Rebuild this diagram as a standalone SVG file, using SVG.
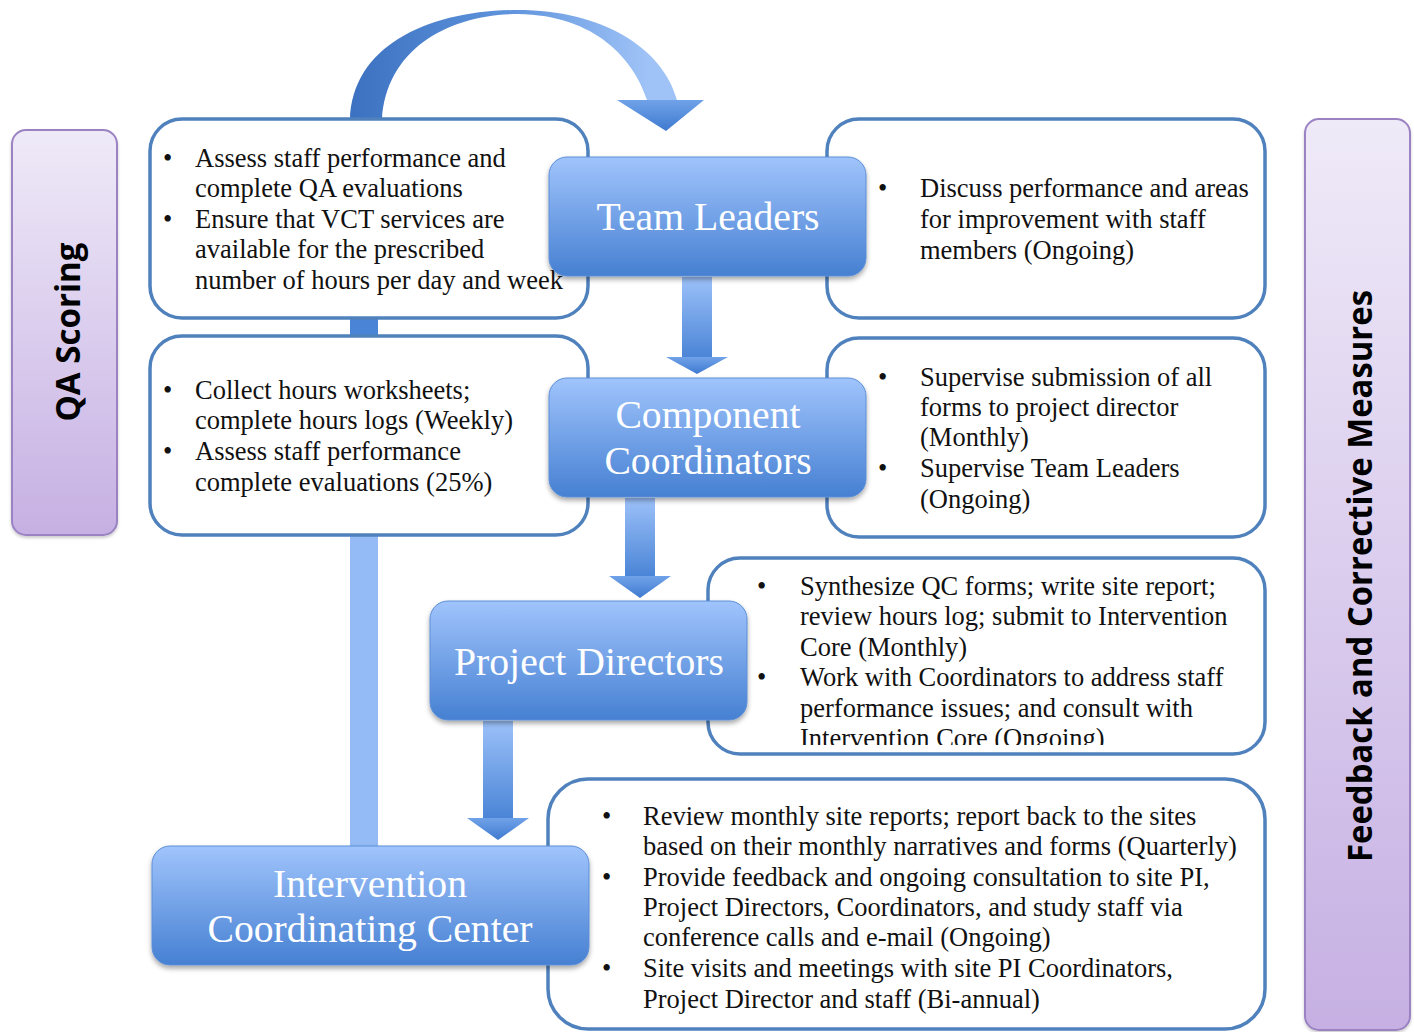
<svg xmlns="http://www.w3.org/2000/svg" width="1414" height="1032" viewBox="0 0 1414 1032">
<defs>
  <linearGradient id="nodeGrad" x1="0" y1="0" x2="0" y2="1">
    <stop offset="0" stop-color="#a0c4fc"/>
    <stop offset="1" stop-color="#4680d2"/>
  </linearGradient>
  <linearGradient id="purpleGrad" x1="0" y1="0" x2="0" y2="1">
    <stop offset="0" stop-color="#efeaf8"/>
    <stop offset="1" stop-color="#c6b0e3"/>
  </linearGradient>
  <linearGradient id="shaftGrad" x1="0" y1="0" x2="0" y2="1">
    <stop offset="0" stop-color="#9cc1f9"/>
    <stop offset="1" stop-color="#4a84d6"/>
  </linearGradient>
  <linearGradient id="arcGrad" x1="350" y1="0" x2="700" y2="0" gradientUnits="userSpaceOnUse">
    <stop offset="0" stop-color="#3b71c0"/>
    <stop offset="0.45" stop-color="#5f93dc"/>
    <stop offset="0.85" stop-color="#9fc3f7"/>
    <stop offset="1" stop-color="#9fc3f7"/>
  </linearGradient>
  <linearGradient id="headGrad" x1="0" y1="0" x2="0" y2="1">
    <stop offset="0" stop-color="#70a2e8"/>
    <stop offset="1" stop-color="#3f7ad0"/>
  </linearGradient>
  <filter id="shadow" x="-10%" y="-10%" width="120%" height="130%">
    <feDropShadow dx="0" dy="3" stdDeviation="2.5" flood-color="#000" flood-opacity="0.35"/>
  </filter>
  <filter id="softShadow" x="-10%" y="-10%" width="120%" height="130%">
    <feDropShadow dx="0" dy="2" stdDeviation="1.5" flood-color="#000" flood-opacity="0.2"/>
  </filter>
  <clipPath id="pdClip">
    <rect x="700" y="555" width="570" height="190"/>
  </clipPath>
</defs>
<style>
  .tbox { fill: #ffffff; stroke: #4f81bd; stroke-width: 3.5; }
  .node rect { fill: url(#nodeGrad); stroke: #5d8fd6; stroke-width: 1; filter: url(#shadow); }
  .ntext { font-family: "Liberation Serif", "Times New Roman", serif; font-size: 39.7px; fill: #ffffff; text-anchor: middle; }
  .body { font-family: "Liberation Serif", "Times New Roman", serif; font-size: 26.5px; fill: #111111; }
  .side rect { fill: url(#purpleGrad); stroke: #9b82c2; stroke-width: 2; filter: url(#softShadow); }
  .stext { font-family: "Open Sans", "Liberation Sans", sans-serif; font-weight: bold; font-size: 34px; fill: #000000; text-anchor: middle; }
  .shaft { fill: url(#shaftGrad); }
  .head { fill: url(#headGrad); }
</style>

<!-- connectors -->
<g id="connectors">
  <rect x="350" y="300" width="28" height="550" fill="#94bbf6"/>
  <rect x="350" y="316" width="28" height="22" fill="#4a84d6"/>
  <!-- curved arrow -->
  <path d="M350,120 C352,45 430,10 518,10 C602,10 663,48 677,100 L647,100 C634,60 596,15 518,14 C450,14 386,48 382,120 Z" fill="url(#arcGrad)"/>
  <polygon points="617,100 704,100 666,131" class="head"/>
  <!-- TL to CC -->
  <rect x="682" y="277" width="30" height="81" class="shaft"/>
  <polygon points="666,357 728,357 697,374" class="head"/>
  <!-- CC to PD -->
  <rect x="625" y="498" width="30" height="79" class="shaft"/>
  <polygon points="609,576 671,576 640,598" class="head"/>
  <!-- PD to ICC -->
  <rect x="483" y="721" width="30" height="98" class="shaft"/>
  <polygon points="467,818 529,818 498,840" class="head"/>
</g>

<!-- side labels -->
<g id="qa-scoring" class="side">
  <rect x="12" y="130" width="105" height="405" rx="14"/>
  <text class="stext" transform="translate(80,332) rotate(-90)" textLength="179" lengthAdjust="spacingAndGlyphs">QA Scoring</text>
</g>
<g id="feedback" class="side">
  <rect x="1305" y="119" width="105" height="911" rx="14"/>
  <text class="stext" transform="translate(1372,576) rotate(-90)" textLength="572" lengthAdjust="spacingAndGlyphs">Feedback and Corrective Measures</text>
</g>

<!-- text boxes -->
<g id="box-tl-left">
  <rect class="tbox" x="150" y="119" width="438" height="199" rx="32"/>
  <g class="body">
    <text x="163" y="167">•</text>
    <text x="195" y="167">Assess staff performance and</text>
    <text x="195" y="197">complete QA evaluations</text>
    <text x="163" y="228">•</text>
    <text x="195" y="228">Ensure that VCT services are</text>
    <text x="195" y="258">available for the prescribed</text>
    <text x="195" y="289">number of hours per day and week</text>
  </g>
</g>
<g id="box-cc-left">
  <rect class="tbox" x="150" y="336" width="438" height="199" rx="32"/>
  <g class="body">
    <text x="163" y="399">•</text>
    <text x="195" y="399">Collect hours worksheets;</text>
    <text x="195" y="429">complete hours logs (Weekly)</text>
    <text x="163" y="460">•</text>
    <text x="195" y="460">Assess staff performance</text>
    <text x="195" y="491">complete evaluations (25%)</text>
  </g>
</g>
<g id="box-tl-right">
  <rect class="tbox" x="827" y="119" width="438" height="199" rx="32"/>
  <g class="body">
    <text x="878" y="197">•</text>
    <text x="920" y="197">Discuss performance and areas</text>
    <text x="920" y="228">for improvement with staff</text>
    <text x="920" y="259">members (Ongoing)</text>
  </g>
</g>
<g id="box-cc-right">
  <rect class="tbox" x="827" y="338" width="438" height="199" rx="32"/>
  <g class="body">
    <text x="878" y="386">•</text>
    <text x="920" y="386">Supervise submission of all</text>
    <text x="920" y="416">forms to project director</text>
    <text x="920" y="446">(Monthly)</text>
    <text x="878" y="477">•</text>
    <text x="920" y="477">Supervise Team Leaders</text>
    <text x="920" y="508">(Ongoing)</text>
  </g>
</g>
<g id="box-pd">
  <rect class="tbox" x="708" y="558" width="557" height="196" rx="32"/>
  <g class="body" clip-path="url(#pdClip)">
    <text x="757" y="595">•</text>
    <text x="800" y="595">Synthesize QC forms; write site report;</text>
    <text x="800" y="625">review hours log; submit to Intervention</text>
    <text x="800" y="656">Core (Monthly)</text>
    <text x="757" y="686">•</text>
    <text x="800" y="686">Work with Coordinators to address staff</text>
    <text x="800" y="717">performance issues; and consult with</text>
    <text x="800" y="747">Intervention Core (Ongoing)</text>
  </g>
</g>
<g id="box-icc">
  <rect class="tbox" x="548" y="779" width="717" height="250" rx="40"/>
  <g class="body">
    <text x="602" y="825">•</text>
    <text x="643" y="825">Review monthly site reports; report back to the sites</text>
    <text x="643" y="855">based on their monthly narratives and forms (Quarterly)</text>
    <text x="602" y="886">•</text>
    <text x="643" y="886">Provide feedback and ongoing consultation to site PI,</text>
    <text x="643" y="916">Project Directors, Coordinators, and study staff via</text>
    <text x="643" y="946">conference calls and e-mail (Ongoing)</text>
    <text x="602" y="977">•</text>
    <text x="643" y="977">Site visits and meetings with site PI Coordinators,</text>
    <text x="643" y="1008">Project Director and staff (Bi-annual)</text>
  </g>
</g>

<!-- nodes -->
<g id="team-leaders" class="node">
  <rect x="549" y="157" width="317" height="119" rx="18"/>
  <text class="ntext" x="708" y="230">Team Leaders</text>
</g>
<g id="component-coordinators" class="node">
  <rect x="549" y="378" width="317" height="119" rx="18"/>
  <text class="ntext" x="708" y="428">Component</text>
  <text class="ntext" x="708" y="474">Coordinators</text>
</g>
<g id="project-directors" class="node">
  <rect x="430" y="601" width="317" height="119" rx="18"/>
  <text class="ntext" x="589" y="675">Project Directors</text>
</g>
<g id="intervention-coordinating-center" class="node">
  <rect x="152" y="846" width="437" height="119" rx="18"/>
  <text class="ntext" x="370" y="897">Intervention</text>
  <text class="ntext" x="370" y="942">Coordinating Center</text>
</g>
</svg>
